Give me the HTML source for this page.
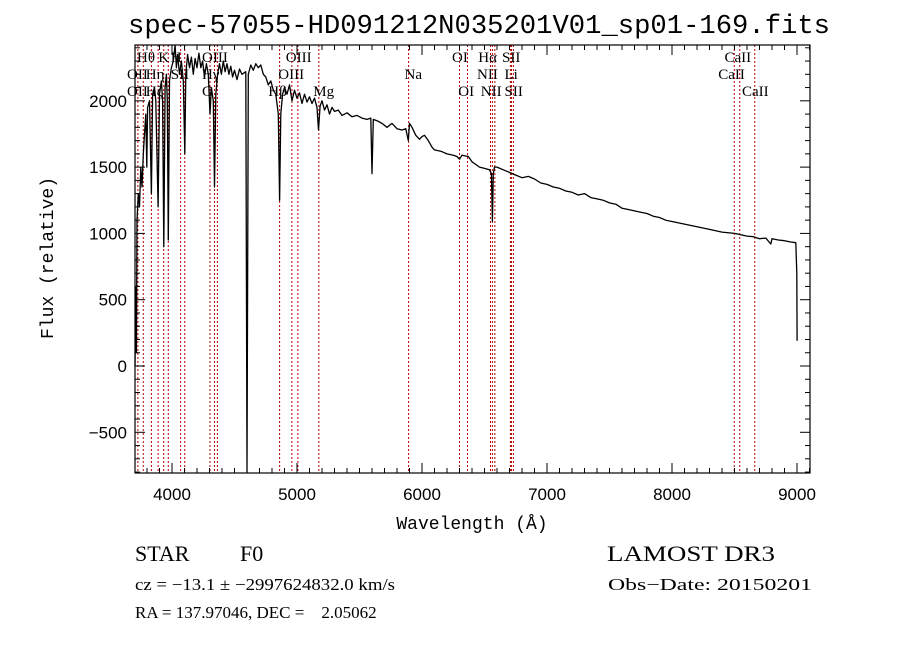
<!DOCTYPE html>
<html><head><meta charset="utf-8"><style>
html,body{margin:0;padding:0;background:#fff;}
svg{display:block;}
text{white-space:pre;}
.lbl{font-family:"Liberation Serif",serif;font-size:15px;fill:#000;}
.tick{font-family:"Liberation Sans",sans-serif;font-size:17px;fill:#000;}
.mono{font-family:"Liberation Mono",monospace;fill:#000;}
.ser{font-family:"Liberation Serif",serif;fill:#000;}
</style></head><body>
<svg id="chart" width="900" height="649" viewBox="0 0 900 649" xmlns="http://www.w3.org/2000/svg">
<rect width="900" height="649" fill="#fff"/>
<text class="mono" x="128" y="33" font-size="27" textLength="702" lengthAdjust="spacingAndGlyphs">spec-57055-HD091212N035201V01_sp01-169.fits</text>
<g id="lines"></g>
<g id="labels"></g>
<polyline id="spec" fill="none" stroke="#000" stroke-width="1.3" stroke-linejoin="round"/>
<rect x="135" y="45" width="675" height="428" fill="none" stroke="#000" stroke-width="1.2"/>
<g id="ticks"></g>
<text class="mono" x="472" y="529" font-size="18" text-anchor="middle">Wavelength (Å)</text>
<text class="mono" x="0" y="0" font-size="18" text-anchor="middle" transform="translate(53,258) rotate(-90)">Flux (relative)</text>
<text class="ser" x="135" y="561" font-size="22" xml:space="preserve">STAR</text>
<text class="ser" x="240" y="561" font-size="22">F0</text>
<text class="ser" x="607" y="561" font-size="22" textLength="168" lengthAdjust="spacingAndGlyphs">LAMOST DR3</text>
<text class="ser" x="135" y="590" font-size="17" textLength="260" lengthAdjust="spacingAndGlyphs">cz = −13.1 ± −2997624832.0 km/s</text>
<text class="ser" x="608" y="590" font-size="17" textLength="204" lengthAdjust="spacingAndGlyphs">Obs−Date: 20150201</text>
<text class="ser" x="135" y="618" font-size="17" xml:space="preserve">RA = 137.97046, DEC =    2.05062</text>
</svg>
<script>
const wavelengths=[3704,3710,3715,3720,3730,3740,3750,3760,3770,3780,3790,3798,3805,3820,3835,3845,3860,3870,3889,3900,3915,3925,3934,3945,3955,3962,3970,3980,3995,4010,4025,4035,4045,4060,4075,4090,4102,4110,4125,4140,4155,4170,4185,4200,4215,4230,4245,4260,4275,4290,4304,4315,4330,4340,4350,4365,4380,4395,4410,4425,4440,4455,4470,4485,4500,4520,4540,4560,4590,4600,4610,4630,4650,4670,4690,4710,4730,4750,4770,4790,4810,4830,4850,4861,4870,4885,4900,4920,4940,4960,4980,5000,5020,5040,5060,5080,5100,5120,5140,5160,5172,5185,5200,5220,5240,5260,5280,5300,5330,5360,5400,5440,5480,5520,5560,5590,5600,5610,5640,5680,5720,5760,5800,5840,5870,5890,5900,5920,5950,5980,6000,6020,6050,6080,6100,6150,6200,6250,6280,6300,6320,6370,6400,6430,6460,6500,6540,6555,6563,6570,6580,6600,6650,6700,6750,6800,6850,6900,6950,7000,7050,7100,7150,7200,7250,7300,7350,7400,7450,7500,7550,7600,7650,7700,7750,7800,7850,7900,7950,8000,8100,8200,8300,8400,8500,8550,8600,8650,8700,8750,8790,8800,8850,8900,8950,8990,8998,9001];
const fluxes=[0,600,100,1100,1300,1200,1500,1350,1600,1750,1900,1500,1950,2000,1300,2050,2100,2000,1200,2050,2150,2000,900,2100,2200,2000,950,2150,2250,2300,2420,2250,2350,2200,2300,2150,1600,2200,2350,2250,2330,2200,2320,2250,2360,2250,2300,2180,2280,2200,1900,2100,2000,1350,2050,2200,2280,2200,2300,2220,2280,2200,2260,2180,2230,2160,2240,2200,2220,-800,2200,2270,2230,2280,2250,2270,2200,2180,2120,2150,2080,2050,1900,1250,1900,2050,2100,2050,2120,2000,2080,2020,2060,1980,2050,1990,2030,1980,2020,1950,1780,1960,2000,1930,1970,1900,1950,1920,1930,1890,1910,1880,1890,1870,1860,1870,1450,1860,1850,1830,1800,1830,1790,1780,1790,1700,1830,1800,1740,1710,1730,1740,1700,1650,1630,1620,1600,1590,1580,1560,1590,1580,1540,1520,1500,1490,1480,1450,1090,1450,1500,1500,1480,1460,1440,1420,1430,1410,1380,1370,1350,1340,1320,1310,1290,1300,1270,1260,1250,1230,1220,1190,1180,1170,1160,1150,1130,1120,1100,1090,1070,1050,1030,1010,1000,990,980,975,960,965,920,960,950,945,935,930,700,190];
const lineWaves=[3727,3770,3835,3889,3934,3970,4069,4102,4304,4340,4363,4861,4959,5007,5175,5893,6300,6364,6548,6563,6583,6707,6716,6731,8498,8542,8662];
const labelText=["Hθ","K","H","OIII","OII","Hη","SII","Hγ","OII","Hζ","G","OIII","OIII","Hβ","Mg","Na","OI","OI","Hα","SII","NII","Li","NII","SII","CaII","CaII","CaII"];
const labelWave=[3720,3890,3990,4240,3640,3790,3990,4240,3640,3790,4240,4910,4850,4770,5130,5860,6240,6290,6450,6640,6440,6660,6470,6660,8420,8370,8560];
const labelRow=[0,0,0,0,1,1,1,1,2,2,2,0,1,2,2,1,0,2,0,0,1,1,2,2,0,1,2];
const xTicks=[4000,5000,6000,7000,8000,9000];
const yTicks=[-500,0,500,1000,1500,2000];
const X0=135,X1=810,Y0=473,Y1=45,WMIN=3704,WMAX=9104,FMIN=-807,FMAX=2421;
function xs(w){return X0+(w-WMIN)/(WMAX-WMIN)*(X1-X0);}
function ys(f){return Y0-(f-FMIN)/(FMAX-FMIN)*(Y0-Y1);}
const NS="http://www.w3.org/2000/svg";
function mk(t,a){const e=document.createElementNS(NS,t);for(const k in a)e.setAttribute(k,a[k]);return e;}
const sp=document.getElementById('spec');
sp.setAttribute('points',wavelengths.map((w,i)=>xs(w).toFixed(1)+','+Math.min(Y0,Math.max(Y1,ys(fluxes[i]))).toFixed(1)).join(' '));
const lg=document.getElementById('lines');
lineWaves.forEach(w=>{const l=mk('line',{x1:xs(w),x2:xs(w),y1:Y1,y2:Y0,stroke:'#b00000','stroke-width':1,'stroke-dasharray':'2,2'});


lg.appendChild(l);});
const lb=document.getElementById('labels');
const rowY=[62,79,96];
labelText.forEach((t,i)=>{const e=mk('text',{x:xs(labelWave[i]),y:rowY[labelRow[i]],class:'lbl'});e.textContent=t;


lb.appendChild(e);});
const tg=document.getElementById('ticks');
for(let w=3800;w<=9100;w+=100){const big=w%1000===0,L=big?10:5;
tg.appendChild(mk('line',{x1:xs(w),x2:xs(w),y1:Y0,y2:Y0-L,stroke:'#000'}));
tg.appendChild(mk('line',{x1:xs(w),x2:xs(w),y1:Y1,y2:Y1+L,stroke:'#000'}));}
for(let f=-800;f<=2400;f+=100){const big=f%500===0,L=big?10:5;
tg.appendChild(mk('line',{x1:X0,x2:X0+L,y1:ys(f),y2:ys(f),stroke:'#000'}));
tg.appendChild(mk('line',{x1:X1,x2:X1-L,y1:ys(f),y2:ys(f),stroke:'#000'}));}
xTicks.forEach(w=>{const e=mk('text',{x:xs(w),y:Y0+27,class:'tick','text-anchor':'middle'});e.textContent=w;


tg.appendChild(e);});
yTicks.forEach(f=>{const e=mk('text',{x:X0-8,y:ys(f)+6,class:'tick','text-anchor':'end'});e.textContent=f<0?'−'+(-f):f;


tg.appendChild(e);});
</script>
</body></html>
